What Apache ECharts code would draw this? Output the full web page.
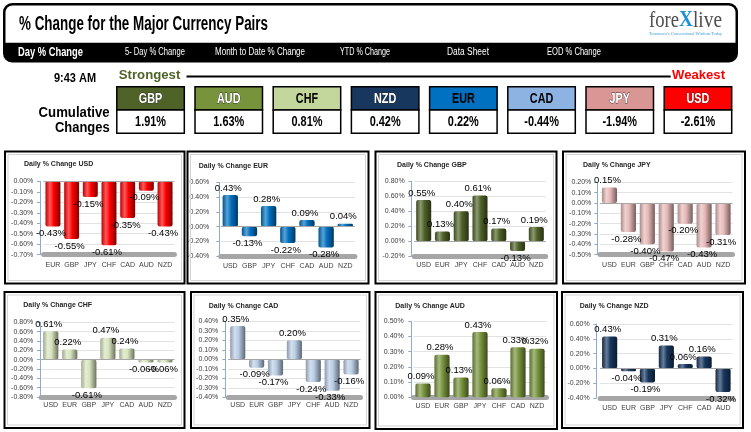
<!DOCTYPE html>
<html><head><meta charset="utf-8">
<script src="https://cdn.jsdelivr.net/npm/echarts@6/dist/echarts.min.js"></script>
<style>html,body{margin:0;padding:0;background:#fff}#c{width:751px;height:432px}</style>
</head><body><div id="c"></div>
<script>
// ---------------- DATA ----------------
const pageTitle = '% Change for the Major Currency Pairs';
const tabs = ['Day % Change', '5- Day % Change', 'Month to Date % Change', 'YTD % Change', 'Data Sheet', 'EOD % Change'];
const timeLabel = '9:43 AM';
const rankPairs = ['GBP', 'AUD', 'CHF', 'NZD', 'EUR', 'CAD', 'JPY', 'USD'];
const cumulative = [1.91, 1.63, 0.81, 0.42, 0.22, -0.44, -1.94, -2.61];

const usdCats = ['EUR', 'GBP', 'JPY', 'CHF', 'CAD', 'AUD', 'NZD'];
const usdVals = [-0.43, -0.55, -0.15, -0.61, -0.35, -0.09, -0.43];
const usdTicks = [-0.7, 0, 0.1];

const eurCats = ['USD', 'GBP', 'JPY', 'CHF', 'CAD', 'AUD', 'NZD'];
const eurVals = [0.43, -0.13, 0.28, -0.22, 0.09, -0.28, 0.04];
const eurTicks = [-0.4, 0.6, 0.2];

const gbpCats = ['USD', 'EUR', 'JPY', 'CHF', 'CAD', 'AUD', 'NZD'];
const gbpVals = [0.55, 0.13, 0.40, 0.61, 0.17, -0.13, 0.19];
const gbpTicks = [-0.2, 0.8, 0.2];

const jpyCats = ['USD', 'EUR', 'GBP', 'CHF', 'CAD', 'AUD', 'NZD'];
const jpyVals = [0.15, -0.28, -0.40, -0.47, -0.20, -0.43, -0.31];
const jpyTicks = [-0.5, 0.2, 0.1];

const chfCats = ['USD', 'EUR', 'GBP', 'JPY', 'CAD', 'AUD', 'NZD'];
const chfVals = [0.61, 0.22, -0.61, 0.47, 0.24, -0.06, -0.06];
const chfTicks = [-0.8, 0.8, 0.2];

const cadCats = ['USD', 'EUR', 'GBP', 'JPY', 'CHF', 'AUD', 'NZD'];
const cadVals = [0.35, -0.09, -0.17, 0.20, -0.24, -0.33, -0.16];
const cadTicks = [-0.4, 0.4, 0.1];

const audCats = ['USD', 'EUR', 'GBP', 'JPY', 'CHF', 'CAD', 'NZD'];
const audVals = [0.09, 0.28, 0.13, 0.43, 0.06, 0.33, 0.32];
const audTicks = [0, 0.5, 0.1];

const nzdCats = ['USD', 'EUR', 'GBP', 'JPY', 'CHF', 'CAD', 'AUD'];
const nzdVals = [0.43, -0.04, -0.19, 0.31, 0.06, 0.16, -0.32];
const nzdTicks = [-0.4, 0.6, 0.2];

// ---------------- STYLE / LAYOUT ----------------
const FONT = '"Liberation Sans", Arial, sans-serif';
const boxColors = ['#4f6228', '#77933c', '#c3d69b', '#17375e', '#0070c0', '#8db3e2', '#da9694', '#ff0000'];
const boxText = ['#fff', '#fff', '#000', '#fff', '#000', '#000', '#fff', '#fff'];

const panels = [
  {name: 'USD', cats: usdCats, vals: usdVals, ticks: usdTicks, color: '#ff0000',
   grid: [43.6, 181.3, 130.8, 73.4], axisX: 40, gap: 6.7, catGap: 10, title: [24, 164], frame: [5, 151.5, 179.5, 132]},
  {name: 'EUR', cats: eurCats, vals: eurVals, ticks: eurTicks, color: '#0070c0',
   grid: [220.7, 182.3, 134.2, 74], axisX: 219.3, gap: 10, catGap: 10, title: [198.7, 166.3], frame: [187.5, 151.5, 181, 132]},
  {name: 'GBP', cats: gbpCats, vals: gbpVals, ticks: gbpTicks, color: '#4f6228',
   grid: [414.3, 181.3, 131.4, 75], axisX: 411.3, gap: 6.6, catGap: 9, title: [397, 165.3], frame: [375.5, 151.5, 181, 132]},
  {name: 'JPY', cats: jpyCats, vals: jpyVals, ticks: jpyTicks, color: '#e6b9b8',
   grid: [600, 182.3, 132.5, 72.4], axisX: 597.3, gap: 6, catGap: 10, title: [583, 165.3], frame: [563, 151.5, 182, 132]},
  {name: 'CHF', cats: chfCats, vals: chfVals, ticks: chfTicks, color: '#d7e4bd',
   grid: [41.2, 322.3, 133.3, 74.7], axisX: 40, gap: 6.7, catGap: 8.3, title: [23.3, 305.3], frame: [4.5, 292, 180, 136]},
  {name: 'CAD', cats: cadCats, vals: cadVals, ticks: cadTicks, color: '#b9cde5',
   grid: [228.3, 321.3, 132.2, 76], axisX: 225.3, gap: 7, catGap: 8, title: [208.7, 306.3], frame: [191, 292, 178.5, 136]},
  {name: 'AUD', cats: audCats, vals: audVals, ticks: audTicks, color: '#77933c',
   grid: [413.5, 321.3, 133, 76], axisX: 411.3, gap: 7.6, catGap: 9, title: [395.3, 306.3], frame: [375.5, 292, 181.5, 137]},
  {name: 'NZD', cats: nzdCats, vals: nzdVals, ticks: nzdTicks, color: '#17375e',
   grid: [600.2, 324, 132.3, 74], axisX: 596.3, gap: 6.6, catGap: 10, title: [579.7, 306.3], frame: [562, 292, 181, 136]}
];

// ---------------- HELPERS ----------------
const cv = document.createElement('canvas').getContext('2d');
function fmt(v) { v = Math.round(v * 100) / 100; if (Math.abs(v) < 1e-9) v = 0; return v.toFixed(2) + '%'; }
function hex2rgb(h) { h = h.replace('#', ''); return [0, 2, 4].map(i => parseInt(h.substr(i, 2), 16)); }
function mix(c, t, k) {
  const a = hex2rgb(c), b = hex2rgb(t);
  return 'rgb(' + a.map((v, i) => Math.round(v + (b[i] - v) * k)).join(',') + ')';
}
function cyl(c) {
  return {type: 'linear', x: 0, y: 0, x2: 1, y2: 0, colorStops: [
    {offset: 0, color: mix(c, '#000000', 0.25)},
    {offset: 0.3, color: mix(c, '#ffffff', 0.35)},
    {offset: 0.55, color: c},
    {offset: 1, color: mix(c, '#000000', 0.5)}
  ]};
}
function txt(text, x, y, o) {
  let sx = o.sx || 1;
  if (o.w) { cv.font = o.font; sx = o.w / cv.measureText(text).width; }
  const st = {text: text, font: o.font, fill: o.fill || '#000', textAlign: o.align || 'left', align: o.align || 'left',
              textVerticalAlign: 'middle', verticalAlign: 'middle'};
  if (o.stroke) { st.stroke = o.stroke; st.lineWidth = o.lw || 1; }
  return {type: 'text', x: x, y: y, scaleX: sx, scaleY: o.sy || 1, z: o.z || 60, silent: true, style: st};
}

// ---------------- GRAPHICS (banner, ranking, frames) ----------------
const g = [];
// banner
g.push({type: 'rect', z: 50, shape: {x: 3, y: 3, width: 735, height: 59.5, r: 9}, style: {fill: '#000'}});
g.push({type: 'rect', z: 51, shape: {x: 5.5, y: 5.5, width: 730, height: 37.2, r: [7, 7, 0, 0]}, style: {fill: '#fff'}});
g.push(txt(pageTitle, 19, 24.5, {font: 'bold 19px ' + FONT, w: 249, sy: 1.08}));
// logo
g.push(txt('fore', 649, 20.5, {font: '24px "Liberation Serif", serif', fill: '#4d4d4d', w: 30}));
g.push(txt('X', 679, 19.5, {font: 'bold 24px "Liberation Serif", serif', fill: '#1e90d8', w: 14}));
g.push(txt('live', 693, 20.5, {font: '24px "Liberation Serif", serif', fill: '#4d4d4d', w: 29}));
g.push(txt("Tomorrow's Conventional Wisdom Today", 649, 33.3, {font: '5px "Liberation Serif", serif', fill: '#3d9ad6', w: 73}));
// tabs
const tabX = [18, 125, 215, 340, 447, 547];
const tabW = [65, 60, 90, 50, 42, 54];
tabs.forEach((t, i) => {
  g.push(txt(t, tabX[i], 52.3, {font: (i === 0 ? 'bold 12px ' : '10px ') + FONT, fill: '#fff', w: tabW[i]}));
});
// ranking row
g.push(txt(timeLabel, 54, 78, {font: 'bold 13px ' + FONT, w: 42}));
g.push(txt('Strongest', 118.8, 75.7, {font: 'bold 13px ' + FONT, fill: '#4f6228', w: 61.5}));
g.push({type: 'line', z: 55, shape: {x1: 186.5, y1: 76.5, x2: 670.7, y2: 76.5}, style: {stroke: '#000', lineWidth: 2}});
g.push(txt('Weakest', 672, 75.7, {font: 'bold 13px ' + FONT, fill: '#ff0000', w: 53}));
g.push(txt('Cumulative', 109.6, 113, {font: 'bold 14px ' + FONT, align: 'right', w: 71}));
g.push(txt('Changes', 109.6, 128.3, {font: 'bold 14px ' + FONT, align: 'right', w: 54.6}));
rankPairs.forEach((p, i) => {
  const x = 116.8 + i * 78.2;
  g.push({type: 'rect', z: 55, shape: {x: x, y: 86.7, width: 67.5, height: 23.3}, style: {fill: boxColors[i], stroke: '#000', lineWidth: 1.5}});
  g.push({type: 'rect', z: 55, shape: {x: x, y: 110, width: 67.5, height: 23.3}, style: {fill: '#fff', stroke: '#000', lineWidth: 1.5}});
  const white = boxText[i] === '#fff';
  g.push(txt(p, x + 33.75, 98.6, {font: 'bold 15px ' + FONT, fill: boxText[i], align: 'center', sx: 0.72,
    stroke: white ? '#333' : null, lw: 0.8}));
  g.push(txt(fmt(cumulative[i]), x + 33.75, 121.9, {font: 'bold 14px ' + FONT, align: 'center', sx: 0.78}));
});
// panel frames & titles
panels.forEach(p => {
  const f = p.frame;
  g.push({type: 'rect', z: 1, silent: true, shape: {x: f[0] + 3, y: f[1] + 3, width: f[2] - 6, height: f[3] - 6},
          style: {fill: 'none', stroke: '#d4d4d4', lineWidth: 1}});
  g.push({type: 'rect', z: 100, silent: true, shape: {x: f[0], y: f[1], width: f[2], height: f[3]},
          style: {fill: 'none', stroke: '#000', lineWidth: 2}});
  g.push(txt('Daily % Change ' + p.name, p.title[0], p.title[1], {font: 'bold 7px ' + FONT, fill: '#262626'}));
});

// ---------------- CHARTS ----------------
const grids = [], xAxes = [], yAxes = [], series = [];
panels.forEach((p, i) => {
  const [l, t, w, h] = p.grid;
  grids.push({left: l, top: t, width: w, height: h, containLabel: false, outerBoundsMode: 'none'});
  xAxes.push({type: 'category', gridIndex: i, data: p.cats, position: 'bottom',
    axisLine: {show: true, onZero: false, lineStyle: {color: '#a6a6a6', width: 5}},
    axisTick: {show: false},
    axisLabel: {interval: 0, hideOverlap: false, fontSize: 7, fontFamily: FONT, color: '#404040', margin: p.catGap - 3.5}});
  yAxes.push({type: 'value', gridIndex: i, min: p.ticks[0], max: p.ticks[1], interval: p.ticks[2],
    position: 'left', offset: l - p.axisX,
    axisLine: {show: true, lineStyle: {color: '#8eaad0', width: 1}},
    axisTick: {show: true, length: 3, lineStyle: {color: '#8eaad0'}},
    splitLine: {show: true, lineStyle: {color: '#e2e2e2', width: 1}},
    axisLabel: {fontSize: 7, fontFamily: FONT, color: '#404040', margin: p.gap, formatter: v => fmt(v)}});
  const s = {type: 'bar', xAxisIndex: i, yAxisIndex: i, barWidth: '80%',
    itemStyle: {color: cyl(p.color), borderRadius: 2},
    label: {show: true, fontSize: 9.5, fontFamily: FONT, color: '#000', distance: 2, offset: [-2, 0],
            formatter: q => fmt(q.value)},
    data: p.vals.map(v => ({value: v, label: {position: v >= 0 ? 'top' : 'bottom'}}))};
  if (p.ticks[0] < 0) {
    s.markLine = {silent: true, symbol: 'none', animation: false, label: {show: false},
      lineStyle: {color: '#a6a6a6', width: 1, type: 'solid'}, data: [{yAxis: 0}]};
  }
  series.push(s);
});

const chart = echarts.init(document.getElementById('c'), null, {renderer: 'canvas'});
chart.setOption({
  animation: false,
  backgroundColor: '#fff',
  grid: grids, xAxis: xAxes, yAxis: yAxes, series: series,
  graphic: {elements: g}
});
</script></body></html>
